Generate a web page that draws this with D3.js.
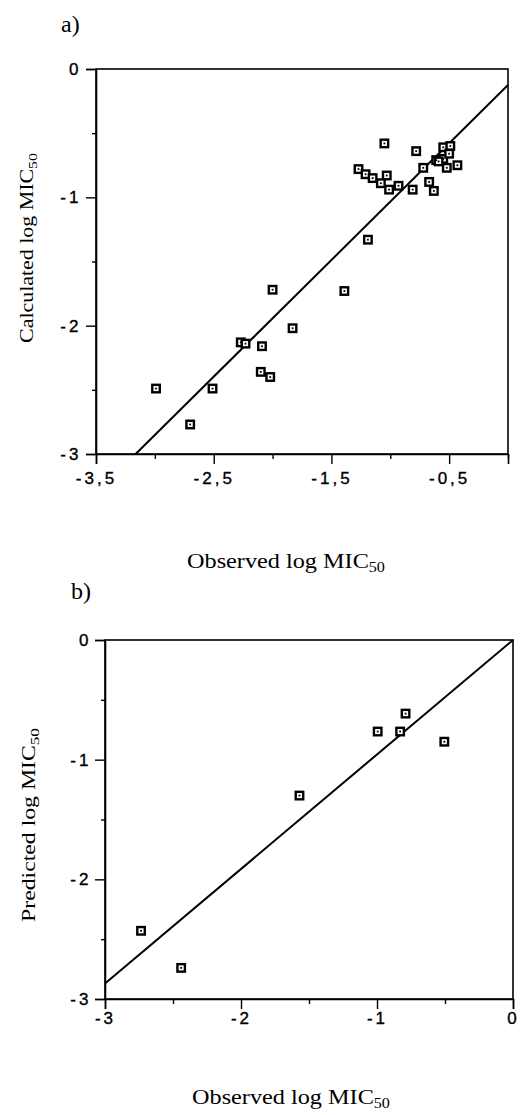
<!DOCTYPE html>
<html><head><meta charset="utf-8">
<script src="https://cdn.jsdelivr.net/npm/d3@7"></script>
<style>
html,body{margin:0;padding:0;background:#fff;}
svg{display:block;}
.tick text{font-family:"Liberation Sans",Arial,sans-serif;font-size:17px;letter-spacing:3px;fill:#000;stroke:#000;stroke-width:0.35px;}
.title{font-family:"Liberation Serif","Times New Roman",serif;fill:#000;}
</style></head>
<body>
<script>
// ---- Panel a data (observed vs calculated log MIC50)
const obsA = [-2.99,-2.70,-2.51,-2.27,-2.23,-2.00,-2.09,-2.10,-2.02,-1.83,-1.39,-1.19,
  -1.05,-1.27,-1.21,-1.15,-1.03,-1.08,-1.01,-0.93,-0.81,-0.78,-0.72,-0.67,-0.63,
  -0.61,-0.55,-0.55,-0.49,-0.50,-0.52,-0.43,-0.59];
const calcA = [-2.49,-2.77,-2.49,-2.13,-2.14,-1.72,-2.16,-2.36,-2.40,-2.02,-1.73,-1.33,
  -0.58,-0.78,-0.82,-0.85,-0.83,-0.89,-0.94,-0.91,-0.94,-0.64,-0.77,-0.88,-0.95,
  -0.71,-0.61,-0.70,-0.60,-0.66,-0.77,-0.75,-0.72];
const fitA = [[-3.163,-3.0],[0,-0.125]];
const xTicksA = [-3.5,-3,-2.5,-2,-1.5,-1,-0.5,0];
const xLabelsA = ["-3,5","","-2,5","","-1,5","","-0,5",""];
const yTicksA = [0,-0.5,-1,-1.5,-2,-2.5,-3];
const yLabelsA = ["0","","-1","","-2","","-3"];

// ---- Panel b data (observed vs predicted log MIC50)
const obsB = [-2.735,-2.44,-1.57,-0.995,-0.83,-0.79,-0.505];
const predB = [-2.43,-2.74,-1.30,-0.765,-0.765,-0.615,-0.85];
const fitB = [[-3,-2.87],[0,0]];
const xTicksB = [-3,-2.5,-2,-1.5,-1,-0.5,0];
const xLabelsB = ["-3","","-2","","-1","","0"];
const yTicksB = [0,-0.5,-1,-1.5,-2,-2.5,-3];
const yLabelsB = ["0","","-1","","-2","","-3"];

const W = 522, H = 1115;
const svg = d3.select("body").append("svg").attr("width", W).attr("height", H);

function stretch(textSel, baseTransform, target){
  const w = textSel.node().getBBox().width;
  textSel.attr("transform", `${baseTransform} scale(${target / w},1)`);
}

function panel(cfg){
  const g = svg.append("g");
  const x = d3.scaleLinear().domain(cfg.xDom).range([cfg.left, cfg.right]);
  const y = d3.scaleLinear().domain(cfg.yDom).range([cfg.bottom, cfg.top]);
  // frame
  g.append("rect").attr("x", cfg.left).attr("y", cfg.top)
    .attr("width", cfg.right-cfg.left).attr("height", cfg.bottom-cfg.top)
    .attr("fill","none").attr("stroke","#000").attr("stroke-width",1.6);
  const xa = g.append("g").attr("transform",`translate(0,${cfg.bottom})`)
    .call(d3.axisBottom(x).tickValues(cfg.xTicks).tickSize(10).tickPadding(cfg.xPad)
      .tickFormat((d,i)=>cfg.xLabels[i]));
  const ya = g.append("g").attr("transform",`translate(${cfg.left},0)`)
    .call(d3.axisLeft(y).tickValues(cfg.yTicks).tickSize(10).tickPadding(cfg.yPad)
      .tickFormat((d,i)=>cfg.yLabels[i]));
  [xa,ya].forEach(a=>{
    a.select(".domain").attr("stroke","#000").attr("stroke-width",1.6);
    a.selectAll(".tick line").attr("stroke","#000").attr("stroke-width",1.4);
  });
  // minor (unlabelled) ticks are shorter
  xa.selectAll(".tick").filter((d,i)=>cfg.xLabels[i]==="").select("line").attr("y2",5);
  ya.selectAll(".tick").filter((d,i)=>cfg.yLabels[i]==="").select("line").attr("x2",-4);
  ya.selectAll(".tick text").attr("dx","0.2em");
  // fit line
  g.append("path").attr("d", d3.line().x(d=>x(d[0])).y(d=>y(d[1]))(cfg.fit))
    .attr("stroke","#000").attr("stroke-width",2).attr("fill","none");
  // points
  const pts = cfg.xs.map((v,i)=>[v,cfg.ys[i]]);
  const s = 7.5;
  g.append("g").selectAll("rect").data(pts).join("rect")
    .attr("x",d=>x(d[0])-s/2).attr("y",d=>y(d[1])-s/2)
    .attr("width",s).attr("height",s)
    .attr("fill","#fff").attr("stroke","#000").attr("stroke-width",2.4);
  g.append("g").selectAll("rect").data(pts).join("rect")
    .attr("x",d=>x(d[0])-0.9).attr("y",d=>y(d[1])-0.9)
    .attr("width",1.8).attr("height",1.8).attr("fill","#000");
  // panel letter
  g.append("text").attr("class","title").attr("x",cfg.letterX).attr("y",cfg.letterY)
    .attr("font-size",24).text(cfg.letter);
  // x title
  const xt = g.append("text").attr("class","title").attr("x",0).attr("y",0)
    .attr("text-anchor","middle").attr("font-size",21);
  xt.append("tspan").text("Observed log MIC");
  xt.append("tspan").attr("font-size",14).attr("dy",4).text("50");
  stretch(xt, `translate(${cfg.xtX},${cfg.xtY})`, cfg.xtW);
  // y title
  const yt = g.append("text").attr("class","title").attr("x",0).attr("y",0)
    .attr("text-anchor","middle").attr("font-size",18);
  yt.append("tspan").text(cfg.yTitle);
  yt.append("tspan").attr("font-size",13).attr("dy",4).text("50");
  stretch(yt, `translate(${cfg.ytX},${cfg.ytY}) rotate(-90)`, cfg.ytW);
}

panel({xDom:[-3.5,0], yDom:[-3,0], left:96, right:508, top:69, bottom:454,
  xTicks:xTicksA, xLabels:xLabelsA, yTicks:yTicksA, yLabels:yLabelsA, xPad:8, yPad:8,
  fit:fitA, xs:obsA, ys:calcA, letter:"a)", letterX:61, letterY:32,
  xtX:286, xtY:568, xtW:198, ytX:33, ytY:248, ytW:190, yTitle:"Calculated log MIC"});

panel({xDom:[-3,0], yDom:[-3,0], left:105, right:513, top:640, bottom:999,
  xTicks:xTicksB, xLabels:xLabelsB, yTicks:yTicksB, yLabels:yLabelsB, xPad:3, yPad:7,
  fit:fitB, xs:obsB, ys:predB, letter:"b)", letterX:71, letterY:599,
  xtX:291, xtY:1104, xtW:198, ytX:35, ytY:825, ytW:194, yTitle:"Predicted log MIC"});
</script>
</body></html>
